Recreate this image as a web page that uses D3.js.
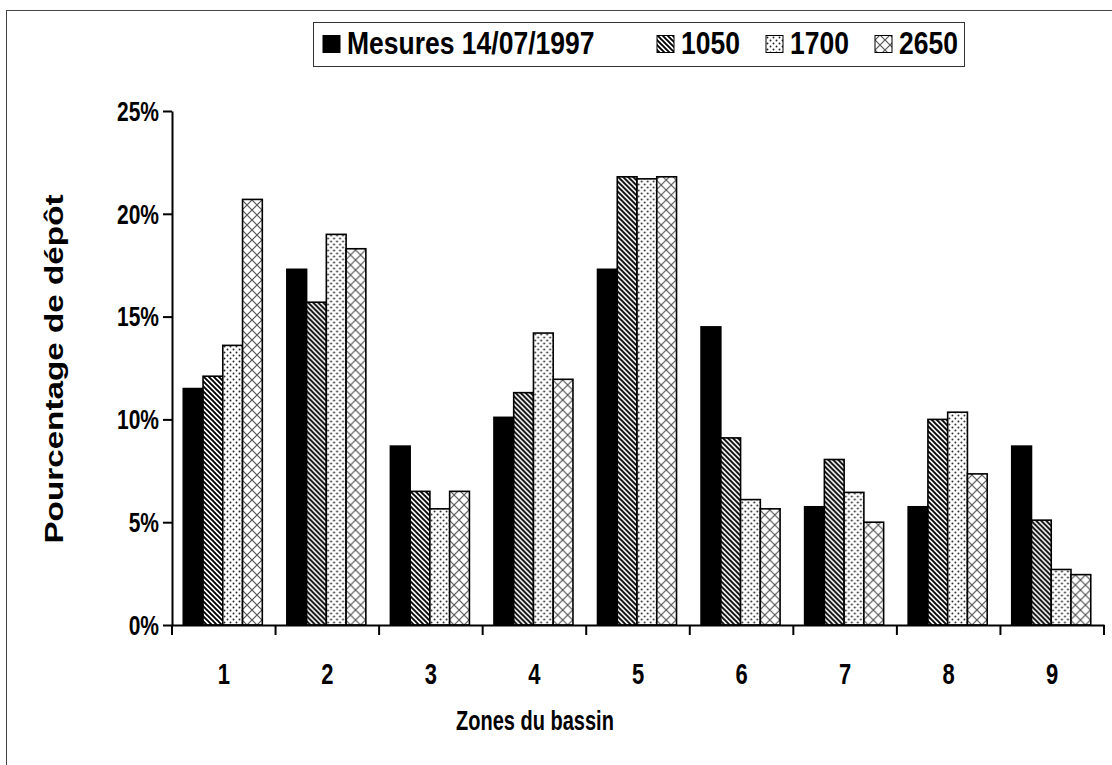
<!DOCTYPE html>
<html>
<head>
<meta charset="utf-8">
<script src="https://cdn.jsdelivr.net/npm/d3@7"></script>
<style>
  body { margin: 0; background: #fff; }
  svg { display: block; }
  text { font-family: "Liberation Sans", Arial, sans-serif; font-weight: bold; fill: #000; }
  /* tall lettering */
  .tall { transform-box: fill-box; transform-origin: center; transform: scaleY(1.35); }
  .legend-text { transform-box: fill-box; transform-origin: center; transform: scaleY(1.15); }
  .long { transform-box: fill-box; transform-origin: center; transform: scaleX(1.33); }
</style>
</head>
<body>
<svg id="chart" width="1112" height="765"></svg>
<script>
// Zones of the basin and the share of deposit (%) per zone
const zones = ["1", "2", "3", "4", "5", "6", "7", "8", "9"];
const seriesNames = ["Mesures 14/07/1997", "1050", "1700", "2650"];
const mesures = [11.5, 17.3, 8.7, 10.1, 17.3, 14.5, 5.75, 5.75, 8.7];
const sim1050 = [12.1, 15.7, 6.5, 11.3, 21.8, 9.1, 8.05, 10.0, 5.1];
const sim1700 = [13.6, 19.0, 5.65, 14.2, 21.7, 6.1, 6.45, 10.35, 2.7];
const sim2650 = [20.7, 18.3, 6.5, 11.95, 21.8, 5.65, 5.0, 7.35, 2.45];
const yTicks = [0, 5, 10, 15, 20, 25];

const seriesValues = [mesures, sim1050, sim1700, sim2650];
const fills = ["#000", "url(#hatch)", "url(#dots)", "url(#cross)"];

const svg = d3.select("#chart");

// ---- fill patterns ----
const defs = svg.append("defs");
const hatch = defs.append("pattern").attr("id", "hatch")
  .attr("patternUnits", "userSpaceOnUse").attr("width", 5).attr("height", 5);
hatch.append("rect").attr("width", 5).attr("height", 5).attr("fill", "#fff");
hatch.append("path").attr("d", "M-1,-1L6,6M-1,4L1,6M4,-1L6,1")
  .attr("stroke", "#000").attr("stroke-width", 1.9);

const dots = defs.append("pattern").attr("id", "dots")
  .attr("patternUnits", "userSpaceOnUse").attr("width", 6).attr("height", 6);
dots.append("rect").attr("width", 6).attr("height", 6).attr("fill", "#fff");
dots.append("circle").attr("cx", 1.5).attr("cy", 1.5).attr("r", 0.95).attr("fill", "#222");
dots.append("circle").attr("cx", 4.5).attr("cy", 4.5).attr("r", 0.95).attr("fill", "#222");

const cross = defs.append("pattern").attr("id", "cross")
  .attr("patternUnits", "userSpaceOnUse").attr("width", 10).attr("height", 10);
cross.append("rect").attr("width", 10).attr("height", 10).attr("fill", "#fff");
cross.append("path").attr("d", "M0,0L10,10M10,0L0,10")
  .attr("stroke", "#555").attr("stroke-width", 1.2);

// ---- outer frame ----
svg.append("rect").attr("x", 6.5).attr("y", 10.5).attr("width", 1112).attr("height", 770)
  .attr("fill", "none").attr("stroke", "#444").attr("stroke-width", 1);

// ---- scales ----
const x = d3.scaleBand().domain(zones).range([172, 1104]).paddingInner(0).paddingOuter(0);
const bw = x.bandwidth();
const xs = d3.scaleBand().domain(d3.range(seriesNames.length))
  .range([bw * 0.109, bw * 0.872]).padding(0);
const y = d3.scaleLinear().domain([0, 25]).range([625, 111]);

// ---- bars ----
const groups = svg.append("g").selectAll("g").data(zones).join("g")
  .attr("transform", d => `translate(${x(d)},0)`);
groups.selectAll("rect")
  .data((d, i) => seriesValues.map((vals, s) => ({ s, v: vals[i] })))
  .join("rect")
  .attr("x", d => xs(d.s))
  .attr("y", d => y(d.v))
  .attr("width", xs.bandwidth())
  .attr("height", d => y(0) - y(d.v))
  .attr("fill", d => fills[d.s])
  .attr("stroke", "#000")
  .attr("stroke-width", 1.6);

// ---- y axis ----
const yAxis = svg.append("g").attr("transform", "translate(172,0)")
  .call(d3.axisLeft(y).tickValues(yTicks).tickFormat(d => d + "%").tickSize(9).tickSizeOuter(0).tickPadding(4));
yAxis.select(".domain").attr("stroke-width", 2);
yAxis.selectAll(".tick line").attr("stroke-width", 2);
yAxis.selectAll("text").attr("class", "tall").style("font-size", "21px")
  .attr("font-family", null).attr("font-size", null);

// ---- x axis: labels centred on zones, ticks on zone boundaries ----
const xAxis = svg.append("g").attr("transform", `translate(0,${y(0)})`)
  .call(d3.axisBottom(x).tickSize(0).tickSizeOuter(0).tickPadding(41));
xAxis.select(".domain").attr("stroke-width", 2);
xAxis.selectAll("text").attr("class", "tall").style("font-size", "22px")
  .attr("font-family", null).attr("font-size", null);
const bounds = zones.map(z => x(z)).concat([x.range()[1]]);
xAxis.selectAll(".bound").data(bounds).join("line").attr("class", "bound")
  .attr("x1", d => d).attr("x2", d => d).attr("y1", 0).attr("y2", 10)
  .attr("stroke", "#000").attr("stroke-width", 2);

// ---- axis titles ----
svg.append("text").attr("class", "tall").attr("x", 535).attr("y", 728).attr("text-anchor", "middle")
  .style("font-size", "20px").text("Zones du bassin");
svg.append("g").attr("transform", "translate(63,369) rotate(-90)")
  .append("text").attr("class", "long").attr("text-anchor", "middle")
  .style("font-size", "25px").text("Pourcentage de dépôt");

// ---- legend ----
const legend = svg.append("g");
legend.append("rect").attr("x", 313.5).attr("y", 22.5).attr("width", 651).attr("height", 44)
  .attr("fill", "#fff").attr("stroke", "#333").attr("stroke-width", 1);
const legendX = [323, 657, 766, 875];
const items = legend.selectAll("g.item").data(seriesNames).join("g").attr("class", "item")
  .attr("transform", (d, i) => `translate(${legendX[i]},0)`);
items.append("rect").attr("x", 0).attr("y", 35.5).attr("width", 17).attr("height", 17)
  .attr("fill", (d, i) => fills[i]).attr("stroke", "#000").attr("stroke-width", 1);
items.append("text").attr("class", "legend-text").attr("x", 24).attr("y", 53)
  .style("font-size", "26.5px").text(d => d);
</script>
</body>
</html>
